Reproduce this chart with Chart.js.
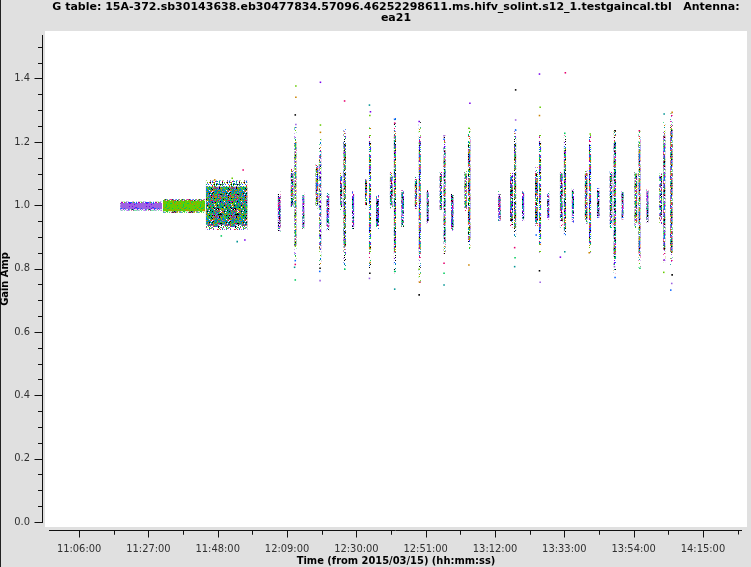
<!DOCTYPE html>
<html>
<head>
<meta charset="utf-8">
<script src="https://cdn.jsdelivr.net/npm/chart.js@4.4.1/dist/chart.umd.min.js"></script>
<style>
  html, body { margin: 0; padding: 0; background: #e0e0e0; }
</style>
</head>
<body>
<canvas id="gainChart" width="751" height="567"></canvas>
<script>
// Times are minutes after 11:00:00 on 2015/03/15

// Tick labels
const xTickTimes = [6, 27, 48, 69, 90, 111, 132, 153, 174, 195];
const xTickLabels = ['11:06:00', '11:27:00', '11:48:00', '12:09:00', '12:30:00', '12:51:00', '13:12:00', '13:33:00', '13:54:00', '14:15:00'];
const yTickValues = [0, 0.2, 0.4, 0.6, 0.8, 1.0, 1.2, 1.4];
const yTickLabels = ['0.0', '0.2', '0.4', '0.6', '0.8', '1.0', '1.2', '1.4'];

// First three long scans (dense solution blocks)
const bandStart = [18.47, 31.42, 44.38];
const bandEnd = [31.12, 44.17, 57.03];
const bandLow = [0.983, 0.976, 0.922];
const bandHigh = [1.011, 1.019, 1.078];
const bandCoreLow = [0.987, 0.981, 0.938];
const bandCoreHigh = [1.007, 1.014, 1.058];

// Later short scans
const stripStart = [66.16, 70.07, 71.19, 73.60, 77.60, 78.72, 80.92, 85.05, 86.04, 88.66,
  92.58, 93.78, 95.98, 100.11, 101.31, 103.60, 107.64, 108.84, 111.25, 115.17,
  116.37, 118.66, 122.70, 123.78, 132.94, 136.56, 137.76, 140.17, 144.09, 145.29,
  147.79, 151.62, 152.82, 155.23, 159.15, 160.45, 162.86, 166.68, 167.88, 170.29,
  174.21, 175.42, 177.83, 181.74, 182.95, 185.05];
const stripEnd = [67.06, 70.98, 71.88, 74.29, 78.51, 79.41, 81.82, 85.74, 86.85, 89.35,
  93.27, 94.47, 96.88, 101.01, 102.00, 104.41, 108.42, 109.54, 111.94, 115.95,
  117.07, 119.48, 123.48, 124.60, 133.73, 137.46, 138.46, 140.87, 144.99, 145.99,
  148.49, 152.52, 153.52, 155.93, 160.05, 161.14, 163.67, 167.58, 168.67, 170.99,
  175.12, 176.11, 178.52, 182.64, 183.64, 185.84];
const stripField = ['cal', 'sci', 'sci', 'cal', 'sci', 'sci', 'cal', 'sci', 'sci', 'cal',
  'sci', 'sci', 'cal', 'sci', 'sci', 'cal', 'sci', 'sci', 'cal', 'sci',
  'sci', 'cal', 'sci', 'sci', 'cal', 'sci', 'sci', 'cal', 'sci', 'sci',
  'cal', 'sci', 'sci', 'cal', 'sci', 'sci', 'cal', 'sci', 'sci', 'cal',
  'sci', 'sci', 'cal', 'sci', 'sci', 'sci'];
const coreLow = [0.93, 1.00, 0.87, 0.93, 1.00, 0.86, 0.93, 1.00, 0.87, 0.935,
  1.00, 0.86, 0.935, 1.00, 0.85, 0.94, 0.995, 0.85, 0.95, 0.99,
  0.88, 0.93, 0.99, 0.89, 0.95, 0.95, 0.92, 0.955, 0.95, 0.88,
  0.96, 0.95, 0.92, 0.955, 0.955, 0.88, 0.965, 0.94, 0.83, 0.96,
  0.945, 0.84, 0.955, 0.955, 0.86, 0.85];
const coreHigh = [1.03, 1.10, 1.20, 1.03, 1.12, 1.17, 1.03, 1.09, 1.20, 1.035,
  1.08, 1.20, 1.025, 1.09, 1.22, 1.04, 1.08, 1.20, 1.04, 1.095,
  1.18, 1.025, 1.10, 1.20, 1.035, 1.09, 1.20, 1.04, 1.10, 1.20,
  1.035, 1.10, 1.18, 1.05, 1.10, 1.19, 1.045, 1.10, 1.20, 1.04,
  1.10, 1.20, 1.045, 1.095, 1.22, 1.24];
const spreadLow = [0.913, 0.985, 0.83, 0.92, 0.99, 0.81, 0.92, 0.985, 0.80, 0.925,
  0.99, 0.795, 0.925, 0.99, 0.785, 0.93, 0.985, 0.755, 0.94, 0.98,
  0.84, 0.92, 0.98, 0.86, 0.945, 0.93, 0.90, 0.95, 0.93, 0.85,
  0.955, 0.93, 0.905, 0.945, 0.94, 0.85, 0.96, 0.925, 0.785, 0.955,
  0.925, 0.80, 0.945, 0.94, 0.82, 0.81];
const spreadHigh = [1.043, 1.115, 1.25, 1.04, 1.13, 1.21, 1.04, 1.105, 1.24, 1.045,
  1.09, 1.245, 1.035, 1.105, 1.275, 1.05, 1.09, 1.265, 1.05, 1.105,
  1.22, 1.035, 1.11, 1.25, 1.045, 1.105, 1.24, 1.045, 1.12, 1.24,
  1.045, 1.11, 1.22, 1.055, 1.11, 1.225, 1.055, 1.11, 1.24, 1.045,
  1.105, 1.235, 1.05, 1.10, 1.265, 1.29];

// Isolated solutions outside the dense strips
const outlierTime = [71.67, 71.67, 71.49, 71.67, 71.49, 71.49, 71.49, 71.28,
  79.11, 79.11, 79.11, 79.0, 79.0, 78.9, 86.43, 86.5,
  93.96, 94.26, 94.08, 94.17, 94.08, 93.96, 101.61, 101.61, 101.61, 101.61,
  109.02, 109.02, 109.14, 109.02, 116.56, 116.56, 116.56, 116.56, 116.56,
  124.39, 124.09, 124.09, 138.25, 138.25, 138.25, 137.95, 138.07, 137.95,
  145.47, 145.68, 145.47, 145.47, 145.68, 144.48, 153.31, 153.13, 153.13, 151.8,
  160.84, 160.54, 168.37, 168.19, 168.37, 175.72, 175.9, 183.24, 183.24, 183.12,
  185.66, 185.66, 185.54, 185.24, 55.7, 49.08, 53.9, 56.22, 52.39, 47.09];
const outlierAmp = [1.376, 1.341, 1.285, 1.255, 0.825, 0.813, 0.764, 0.804,
  1.388, 1.253, 1.23, 0.801, 0.762, 0.791, 1.329, 0.798,
  1.316, 1.295, 1.283, 0.819, 0.785, 0.769, 1.271, 1.259, 0.791, 0.735,
  1.264, 0.798, 0.757, 0.717, 1.219, 1.208, 0.817, 0.785, 0.748,
  1.322, 1.243, 0.811, 1.364, 1.269, 1.237, 0.866, 0.834, 0.806,
  1.414, 1.309, 1.283, 0.793, 0.757, 0.906, 1.418, 1.227, 0.853, 0.836,
  1.225, 0.85, 1.235, 0.806, 0.772, 1.235, 0.801, 1.288, 0.827, 0.788,
  1.293, 0.78, 0.753, 0.732, 1.111, 0.903, 0.885, 0.89, 1.085, 1.08];

// Point colours (one per spw / correlation)
const PURPLE = '#9d62e2', LIME = '#66cc00', TEAL = '#009494', ORANGE = '#cc8400',
  PINK = '#e6006e', BLUE = '#0a64ff', BLACK = '#000000', GREEN = '#00cc5c', VIOLET = '#7a00ee';
const allColors = [LIME, ORANGE, BLACK, PURPLE, BLUE, PINK, GREEN, TEAL, VIOLET];

// speckled texture so the blocks look like many small points
function hash(x, y, s) {
  let h = Math.imul(x, 374761393) + Math.imul(y, 668265263) + Math.imul(s, 1442695041);
  h = Math.imul(h ^ (h >>> 13), 1274126177);
  return (h ^ (h >>> 16)) >>> 0;
}
function speckle(colors, density, seed) {
  const w = 17, h = 29;
  const c = document.createElement('canvas');
  c.width = w; c.height = h;
  const g = c.getContext('2d');
  for (let y = 0; y < h; y++) {
    for (let x = 0; x < w; x++) {
      const k = hash(x, y, seed);
      if (k % 100 >= density) continue;
      g.fillStyle = colors[(k >>> 8) % colors.length];
      g.fillRect(x, y, 1, 1);
    }
  }
  return g.createPattern(c, 'repeat');
}

const bandCorePatterns = [
  speckle([PURPLE, PURPLE, PURPLE, PURPLE, PURPLE, PURPLE, PURPLE, PURPLE, PURPLE, BLUE, VIOLET], 100, 1),
  speckle([LIME, LIME, LIME, LIME, LIME, LIME, LIME, LIME, GREEN, ORANGE], 100, 2),
  speckle([TEAL, TEAL, TEAL, TEAL, TEAL, TEAL, ORANGE, ORANGE, LIME, LIME, BLUE, PINK, PURPLE, GREEN, BLACK], 95, 3)
];
const bandSpreadPatterns = [
  speckle([PURPLE, PURPLE, BLUE, GREEN, PINK, VIOLET, BLACK, LIME], 70, 4),
  speckle([LIME, LIME, PINK, PURPLE, BLUE, GREEN, ORANGE, BLACK], 70, 5),
  speckle([TEAL, TEAL, ORANGE, LIME, LIME, PURPLE, BLUE, PINK, GREEN, BLACK, VIOLET], 45, 6)
];
const calColors = [PURPLE, PURPLE, BLUE, PINK, VIOLET, TEAL, BLACK, GREEN];
const patterns = {
  cal: { core: speckle(calColors, 85, 7), spread: speckle(calColors, 40, 8) },
  sci: { core: speckle(allColors, 80, 9), spread: speckle(allColors, 30, 10) }
};

const datasets = [];
// isolated points on top
datasets.push({
  data: outlierTime.map((t, i) => ({ x: t, y: outlierAmp[i] })),
  showLine: false,
  pointStyle: 'rect',
  pointRadius: 1.1,
  pointBorderWidth: 0,
  pointBackgroundColor: (c) => allColors[c.dataIndex % allColors.length]
});

function addBlock(t0, t1, lo, hi, fillStyle) {
  datasets.push({ data: [{ x: t0, y: lo }, { x: t1, y: lo }], borderWidth: 0, pointRadius: 0, fill: false });
  datasets.push({ data: [{ x: t0, y: hi }, { x: t1, y: hi }], borderWidth: 0, pointRadius: 0, fill: '-1', backgroundColor: fillStyle });
}

bandStart.forEach((t, i) => addBlock(t, bandEnd[i], bandCoreLow[i], bandCoreHigh[i], bandCorePatterns[i]));
bandStart.forEach((t, i) => addBlock(t, bandEnd[i], bandLow[i], bandHigh[i], bandSpreadPatterns[i]));
stripStart.forEach((t, i) => addBlock(t, stripEnd[i], coreLow[i], coreHigh[i], patterns[stripField[i]].core));
stripStart.forEach((t, i) => addBlock(t, stripEnd[i], spreadLow[i], spreadHigh[i], patterns[stripField[i]].spread));

const tickFont = { family: '"DejaVu Sans Condensed", "DejaVu Sans", sans-serif', size: 11 };
const boldFont = { family: '"DejaVu Sans Condensed", "DejaVu Sans", sans-serif', size: 11, weight: 'bold', lineHeight: 1.0 };

// background, axes with minor ticks, title
const plotFrame = {
  id: 'plotFrame',
  beforeDraw(chart) {
    const { ctx, chartArea: a } = chart;
    ctx.save();
    ctx.fillStyle = '#e0e0e0';
    ctx.fillRect(0, 0, chart.width, chart.height);
    ctx.fillStyle = '#ffffff';
    ctx.fillRect(a.left, a.top, a.right - a.left, a.bottom - a.top);
    ctx.fillStyle = '#222';
    ctx.fillRect(0, 0, 1, chart.height);
    ctx.restore();
  },
  afterDraw(chart) {
    const { ctx, chartArea: a, scales: { x, y } } = chart;
    ctx.save();
    ctx.strokeStyle = '#111';
    ctx.lineWidth = 1;
    ctx.beginPath();
    // y axis
    const ax = a.left - 2.5;
    ctx.moveTo(ax, a.top + 4);
    ctx.lineTo(ax, Math.round(y.getPixelForValue(0)) + 1);
    for (let k = 0; k <= 30; k++) {
      const p = Math.round(y.getPixelForValue(k * 0.05)) + 0.5;
      ctx.moveTo(ax, p);
      ctx.lineTo(ax - (k % 4 === 0 ? 8 : 4.5), p);
    }
    // x axis
    const ay = a.bottom + 3.5;
    const x0 = a.left + 4, x1 = a.right - 5;
    ctx.moveTo(x0, ay);
    ctx.lineTo(x1, ay);
    xTickTimes.forEach(t => {
      const p = Math.round(x.getPixelForValue(t)) + 0.5;
      ctx.moveTo(p, ay);
      ctx.lineTo(p, ay + 7);
      [t - 10.5, t + 10.5].forEach(m => {
        const q = Math.round(x.getPixelForValue(m)) + 0.5;
        if (q > x0 && q < x1) {
          ctx.moveTo(q, ay);
          ctx.lineTo(q, ay + 4);
        }
      });
    });
    ctx.stroke();
    // title
    ctx.fillStyle = '#000';
    ctx.font = 'bold 11px "DejaVu Sans", sans-serif';
    ctx.textAlign = 'center';
    ctx.textBaseline = 'middle';
    const cx = (a.left + a.right) / 2;
    ctx.fillText('G table: 15A-372.sb30143638.eb30477834.57096.46252298611.ms.hifv_solint.s12_1.testgaincal.tbl   Antenna:', cx, 7);
    ctx.fillText('ea21', cx, 18.5);
    ctx.restore();
  }
};

new Chart(document.getElementById('gainChart'), {
  type: 'line',
  data: { datasets },
  plugins: [plotFrame],
  options: {
    responsive: false,
    animation: false,
    events: [],
    layout: { padding: { top: 31, left: 0, right: 0, bottom: 0 } },
    plugins: { legend: { display: false }, tooltip: { enabled: false } },
    scales: {
      x: {
        type: 'linear',
        min: -4.333,
        max: 208.34,
        grid: { display: false, drawTicks: false },
        border: { display: false },
        afterBuildTicks: (s) => { s.ticks = xTickTimes.map(v => ({ value: v })); },
        afterFit: (s) => { s.height = 40; s.paddingLeft = 0; s.paddingRight = 0; },
        ticks: {
          autoSkip: false,
          maxRotation: 0,
          padding: 16,
          color: '#303030',
          font: tickFont,
          callback: (v, i) => xTickLabels[i]
        },
        title: {
          display: true,
          text: 'Time (from 2015/03/15) (hh:mm:ss)',
          color: '#000',
          font: boldFont,
          padding: { top: 0, bottom: 0 }
        }
      },
      y: {
        min: -0.0158,
        max: 1.5499,
        grid: { display: false, drawTicks: false },
        border: { display: false },
        afterBuildTicks: (s) => { s.ticks = yTickValues.map(v => ({ value: v })); },
        afterFit: (s) => { s.width = 45; s.paddingTop = 0; s.paddingBottom = 0; },
        ticks: {
          padding: 15,
          color: '#303030',
          font: tickFont,
          callback: (v, i) => yTickLabels[i]
        },
        title: {
          display: true,
          text: 'Gain Amp',
          color: '#000',
          font: boldFont,
          padding: { top: 0, bottom: 0 }
        }
      }
    }
  }
});
</script>
</body>
</html>
